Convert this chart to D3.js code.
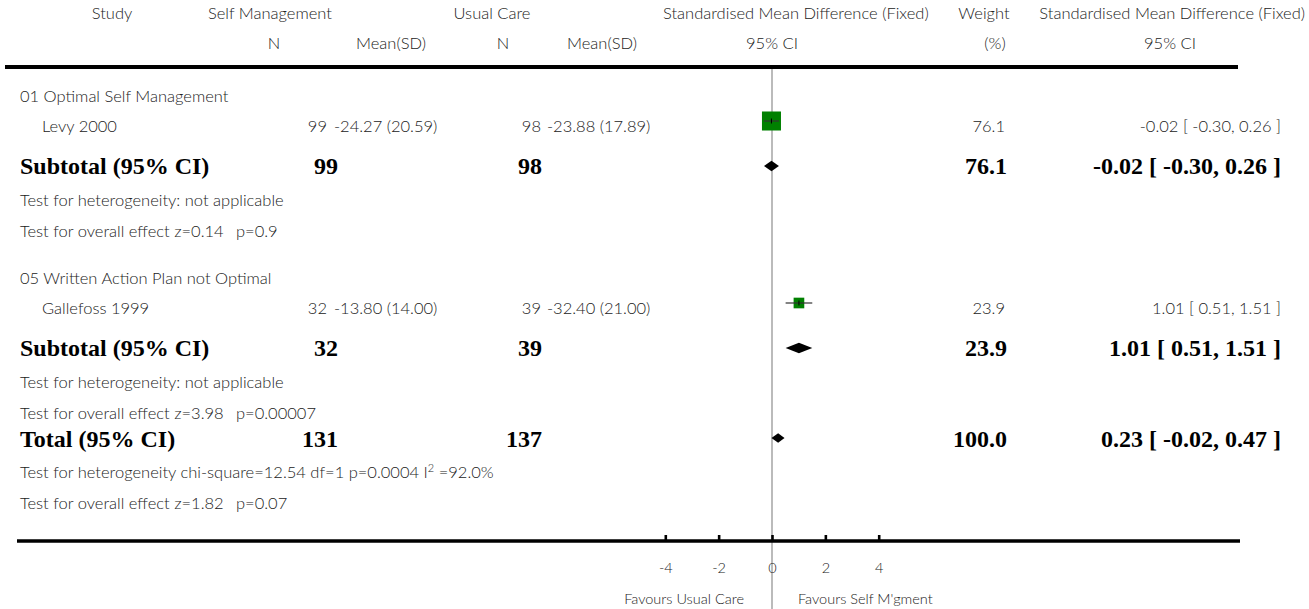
<!DOCTYPE html>
<html>
<head>
<meta charset="utf-8">
<script src="https://cdn.jsdelivr.net/npm/d3@7"></script>
<style>
  html, body { margin: 0; padding: 0; background: #fff; }
  svg { display: block; }
  .reg { font-family: Lato, "Open Sans", sans-serif; font-weight: 300; font-size: 16.5px; fill: #222; }
  .bold { font-family: "Liberation Serif", "DejaVu Serif", serif; font-weight: bold; font-size: 24px; fill: #000; }
</style>
</head>
<body>
<svg id="chart" width="1309" height="609"></svg>
<script>
// ---- data ----
const groupNames = ["01 Optimal Self Management", "05 Written Action Plan not Optimal"];
const studyNames = ["Levy 2000", "Gallefoss 1999"];
const smN = [99, 32];
const smMean = [-24.27, -13.80];
const smSD = [20.59, 14.00];
const ucN = [98, 39];
const ucMean = [-23.88, -32.40];
const ucSD = [17.89, 21.00];
const studySMD = [-0.02, 1.01];
const studyLo = [-0.30, 0.51];
const studyHi = [0.26, 1.51];
const studyWeight = [76.1, 23.9];

const subN1 = [99, 32];
const subN2 = [98, 39];
const subSMD = [-0.02, 1.01];
const subLo = [-0.30, 0.51];
const subHi = [0.26, 1.51];
const subWeight = [76.1, 23.9];
const subHetText = ["Test for heterogeneity: not applicable", "Test for heterogeneity: not applicable"];
const subEffText = ["Test for overall effect z=0.14\u2003p=0.9", "Test for overall effect z=3.98\u2003p=0.00007"];

const totalN = [131, 137];
const totalSMD = 0.23, totalLo = -0.02, totalHi = 0.47, totalWeight = 100.0;
const totalHetParts = ["Test for heterogeneity chi-square=12.54 df=1 p=0.0004 I", "2", " =92.0%"];
const totalEffText = "Test for overall effect z=1.82\u2003p=0.07";

const axisTicks = [-4, -2, 0, 2, 4];
const axisLeftLabel = "Favours Usual Care";
const axisRightLabel = "Favours Self M'gment";

// ---- helpers ----
const svg = d3.select("#chart");
const locale = d3.formatLocale({ decimal: ".", thousands: ",", grouping: [3], currency: ["", ""], minus: "-" });
const f2 = locale.format(".2f");
const f1 = locale.format(".1f");
const fInt = locale.format("d");
const ciText = (e, l, h) => `${f2(e)} [ ${f2(l)}, ${f2(h)} ]`;
const msd = (m, s) => `${f2(m)} (${f2(s)})`;

function label(x, y, str, cls, anchor) {
  return svg.append("text").attr("class", cls).attr("x", x).attr("y", y)
    .attr("text-anchor", anchor || "start").text(str);
}

// ---- scales ----
const x = d3.scaleLinear().domain([-4, 4]).range([665.3, 878.7]);
const boxSide = d3.scaleSqrt().domain([0, 100]).range([0, 21.8]);

// column positions
const col = {
  group: 20, study: 42,
  smN: 327, smNb: 338, smMean: 334,
  ucN: 541, ucNb: 542, ucMean: 547,
  w: 1005, wb: 1007, ci: 1281
};

// ---- header ----
label(112, 19, "Study", "reg", "middle");
label(270, 19, "Self Management", "reg", "middle");
label(492, 19, "Usual Care", "reg", "middle");
label(663, 19, "Standardised Mean Difference (Fixed)", "reg", "start");
label(984, 19, "Weight", "reg", "middle");
label(1305, 19, "Standardised Mean Difference (Fixed)", "reg", "end");
label(274, 49, "N", "reg", "middle");
label(391, 49, "Mean(SD)", "reg", "middle");
label(503, 49, "N", "reg", "middle");
label(602, 49, "Mean(SD)", "reg", "middle");
label(772, 49, "95% CI", "reg", "middle");
label(995, 49, "(%)", "reg", "middle");
label(1170, 49, "95% CI", "reg", "middle");

// line of no effect
svg.append("line").attr("x1", x(0)).attr("x2", x(0)).attr("y1", 67).attr("y2", 609)
  .attr("stroke", "#bbb").attr("stroke-width", 2);

// header rule
svg.append("line").attr("x1", 5).attr("x2", 1238).attr("y1", 67).attr("y2", 67)
  .attr("stroke", "#000").attr("stroke-width", 4);

// ---- body rows ----
const groupTop = [102, 284];
const pitch = 30;

function diamond(cy, lo, est, hi, h) {
  const pts = [[x(lo), cy], [x(est), cy - h], [x(hi), cy], [x(est), cy + h]];
  svg.append("path").attr("d", d3.line()(pts) + "Z").attr("fill", "#000");
}

groupNames.forEach((g, i) => {
  const y0 = groupTop[i];
  label(col.group, y0, g, "reg");
  const ys = y0 + pitch;
  label(col.study, ys, studyNames[i], "reg");
  label(col.smN, ys, fInt(smN[i]), "reg", "end");
  label(col.smMean, ys, msd(smMean[i], smSD[i]), "reg");
  label(col.ucN, ys, fInt(ucN[i]), "reg", "end");
  label(col.ucMean, ys, msd(ucMean[i], ucSD[i]), "reg");
  label(col.w, ys, f1(studyWeight[i]), "reg", "end");
  label(col.ci, ys, ciText(studySMD[i], studyLo[i], studyHi[i]), "reg", "end");

  // study marker: CI line, weighted box, centre tick
  const my = ys - 11;
  const s = boxSide(studyWeight[i]);
  svg.append("rect").attr("x", x(studySMD[i]) - s / 2).attr("y", my - s / 2)
    .attr("width", s).attr("height", s).attr("fill", "#008000");
  svg.append("line").attr("x1", x(studyLo[i])).attr("x2", x(studyHi[i]))
    .attr("y1", my).attr("y2", my).attr("stroke", "#333").attr("stroke-width", 1.2);
  svg.append("line").attr("x1", x(studySMD[i])).attr("x2", x(studySMD[i]))
    .attr("y1", my - 2.5).attr("y2", my + 2.5).attr("stroke", "#000").attr("stroke-width", 1);

  // subtotal
  const yt = ys + 42;
  label(col.group, yt, "Subtotal (95% CI)", "bold");
  label(col.smNb, yt, fInt(subN1[i]), "bold", "end");
  label(col.ucNb, yt, fInt(subN2[i]), "bold", "end");
  label(col.wb, yt, f1(subWeight[i]), "bold", "end");
  label(col.ci, yt, ciText(subSMD[i], subLo[i], subHi[i]), "bold", "end");
  diamond(yt - 8, subLo[i], subSMD[i], subHi[i], 5.3);

  label(col.group, yt + 32, subHetText[i], "reg");
  label(col.group, yt + 63, subEffText[i], "reg");
});

// ---- total ----
const yT = 447;
label(col.group, yT, "Total (95% CI)", "bold");
label(col.smNb, yT, fInt(totalN[0]), "bold", "end");
label(col.ucNb, yT, fInt(totalN[1]), "bold", "end");
label(col.wb, yT, f1(totalWeight), "bold", "end");
label(col.ci, yT, ciText(totalSMD, totalLo, totalHi), "bold", "end");
diamond(yT - 9, totalLo, totalSMD, totalHi, 4.7);

const het = svg.append("text").attr("class", "reg").attr("x", col.group).attr("y", 478);
het.append("tspan").text(totalHetParts[0]);
het.append("tspan").attr("dy", -6).attr("font-size", 11).text(totalHetParts[1]);
het.append("tspan").attr("dy", 6).text(totalHetParts[2]);
label(col.group, 509, totalEffText, "reg");

// ---- axis ----
const axisY = 541;
svg.append("line").attr("x1", 17).attr("x2", 1240).attr("y1", axisY).attr("y2", axisY)
  .attr("stroke", "#000").attr("stroke-width", 3.5);
const axis = d3.axisBottom(x).tickValues(axisTicks).tickSizeInner(-6).tickSizeOuter(0)
  .tickPadding(22).tickFormat(fInt);
const ag = svg.append("g").attr("transform", `translate(0,${axisY})`).call(axis);
ag.select(".domain").remove();
ag.selectAll(".tick line").attr("stroke", "#000").attr("stroke-width", 2.6);
ag.selectAll(".tick text").attr("class", "reg").attr("fill", null).style("font-size", "14.5px");
ag.attr("font-family", null).attr("font-size", null);

label(744, 604, axisLeftLabel, "reg", "end").style("font-size", "14.5px");
label(798, 604, axisRightLabel, "reg", "start").style("font-size", "14.5px");
</script>
</body>
</html>
